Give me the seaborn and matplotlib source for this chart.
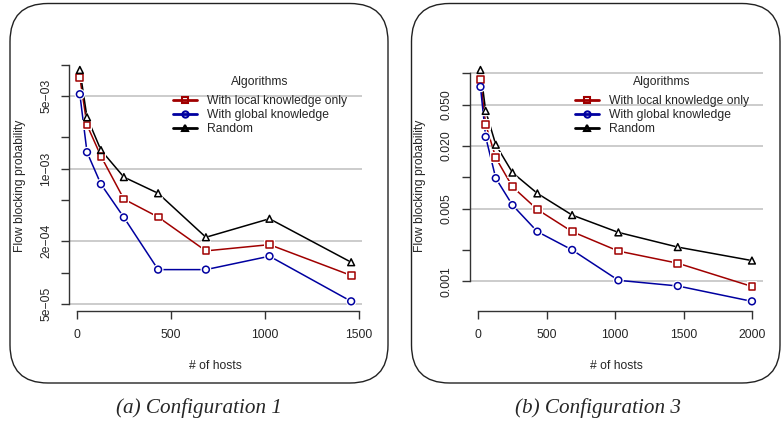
import numpy as np
import pandas as pd
import matplotlib
matplotlib.use("Agg")
import matplotlib.pyplot as plt
import seaborn as sns
from matplotlib.patches import FancyBboxPatch
from matplotlib.lines import Line2D

# ---------------- data ----------------
series_names = ["With local knowledge only", "With global knowledge", "Random"]

hosts1 = [16, 54, 128, 250, 432, 686, 1024, 1458]
local1 = [7.5e-3, 2.63e-3, 1.32e-3, 5.1e-4, 3.43e-4, 1.62e-4, 1.86e-4, 9.4e-5]
global1 = [5.2e-3, 1.44e-3, 7.1e-4, 3.4e-4, 1.07e-4, 1.07e-4, 1.44e-4, 5.3e-5]
random1 = [8.9e-3, 3.12e-3, 1.51e-3, 8.3e-4, 5.8e-4, 2.19e-4, 3.3e-4, 1.26e-4]

hosts3 = [16, 54, 128, 250, 432, 686, 1024, 1458, 2000]
local3 = [0.088, 0.0324, 0.0154, 0.0081, 0.0049, 0.0030, 0.00195, 0.00149, 0.00089]
global3 = [0.0743, 0.0245, 0.0098, 0.0054, 0.0030, 0.0020, 0.00102, 0.00090, 0.00064]
random3 = [0.108, 0.0436, 0.0206, 0.0111, 0.0070, 0.00433, 0.00295, 0.00213, 0.00158]

yticks1 = [5e-5, 1e-4, 2e-4, 5e-4, 1e-3, 2e-3, 5e-3, 1e-2]
ylabels1 = ["5e\u221205", "", "2e\u221204", "", "1e\u221203", "", "5e\u221203", ""]
ygrid1 = [5e-5, 2e-4, 1e-3, 5e-3]
xticks1 = [0, 500, 1000, 1500]

yticks3 = [0.001, 0.002, 0.005, 0.01, 0.02, 0.05, 0.1]
ylabels3 = ["0.001", "", "0.005", "", "0.020", "0.050", ""]
ygrid3 = [0.001, 0.005, 0.02, 0.05, 0.1]
xticks3 = [0, 500, 1000, 1500, 2000]

captions = ["(a) Configuration 1", "(b) Configuration 3"]

# ---------------- style ----------------
sns.set_theme(style="white")
plt.rcParams["font.family"] = ["Liberation Sans", "DejaVu Sans"]
colors = {"With local knowledge only": "#A00000",
          "With global knowledge": "#0000A0",
          "Random": "#000000"}
markers = {"With local knowledge only": "s",
           "With global knowledge": "o",
           "Random": "^"}
FS = 8.7

W, H = 781, 424
fig = plt.figure(figsize=(W / 100, H / 100), dpi=100)


def px_axes(x0, x1, y0, y1):
    return fig.add_axes([x0 / W, 1 - y1 / H, (x1 - x0) / W, (y1 - y0) / H])


def make_df(hosts, loc, glo, rnd):
    rows = []
    for name, vals in zip(series_names, [loc, glo, rnd]):
        for h, v in zip(hosts, vals):
            rows.append((h, v, name))
    return pd.DataFrame(rows, columns=["hosts", "prob", "alg"])


def draw(ax, df, yticks, ylabels, ygrid, xticks):
    for g in ygrid:
        ax.axhline(g, color="#BEBEBE", lw=1.1, zorder=0)
    sns.lineplot(data=df, x="hosts", y="prob", hue="alg", palette=colors,
                 hue_order=series_names, lw=1.1, ax=ax, legend=False,
                 zorder=2, sort=False)
    # white halo to create gaps around points (R type="b")
    sns.scatterplot(data=df, x="hosts", y="prob", style="alg", markers=markers,
                    style_order=series_names, color="white", edgecolor="white",
                    s=60, linewidth=0, ax=ax, legend=False, zorder=3)
    for name in series_names:
        sub = df[df.alg == name]
        sns.scatterplot(data=sub, x="hosts", y="prob", marker=markers[name],
                        facecolor="none", edgecolor=colors[name], s=24,
                        linewidth=1.1, ax=ax, legend=False, zorder=4)
    ax.set_yscale("log")
    x = df.hosts.values
    xr = x.max() - x.min()
    ax.set_xlim(x.min() - 0.04 * xr, x.max() + 0.04 * xr)
    ly = np.log10(df.prob.values)
    lr = ly.max() - ly.min()
    ax.set_ylim(10 ** (ly.min() - 0.04 * lr), 10 ** (ly.max() + 0.04 * lr))
    ax.set_yticks(yticks)
    ax.set_yticklabels(ylabels)
    ax.yaxis.set_minor_locator(matplotlib.ticker.NullLocator())
    ax.set_xticks(xticks)
    ax.set_xticklabels([str(t) for t in xticks])
    for s in ["top", "right"]:
        ax.spines[s].set_visible(False)
    for s in ["left", "bottom"]:
        ax.spines[s].set_color("#333333")
        ax.spines[s].set_linewidth(1.0)
    ax.spines["left"].set_bounds(yticks[0], yticks[-1])
    ax.spines["bottom"].set_bounds(xticks[0], xticks[-1])
    ax.tick_params(axis="both", which="major", length=6, width=1.0,
                   color="#333333", labelsize=FS, left=True, bottom=True)
    ax.tick_params(axis="x", pad=7)
    ax.tick_params(axis="y", pad=6)
    for lab in ax.get_yticklabels():
        lab.set_rotation(90)
        lab.set_va("center")
    ax.set_xlabel("# of hosts", fontsize=FS, labelpad=14)
    ax.set_ylabel("Flow blocking probability", fontsize=FS, labelpad=10.5)
    ax.patch.set_alpha(0)


ax1 = px_axes(69, 362, 60.7, 310.6)
ax2 = px_axes(469.6, 762.8, 60.7, 310.6)
draw(ax1, make_df(hosts1, local1, global1, random1), yticks1, ylabels1, ygrid1, xticks1)
draw(ax2, make_df(hosts3, local3, global3, random3), yticks3, ylabels3, ygrid3, xticks3)

handles = [Line2D([0], [0], color=colors[n], marker=markers[n], lw=2.0,
                  markersize=4.5, markerfacecolor="none", markeredgewidth=1.5)
           for n in series_names]
for ax, lx in [(ax1, 173), (ax2, 575)]:
    leg = ax.legend(handles, series_names, title="Algorithms", frameon=False,
                    loc="upper left", bbox_to_anchor=(lx / W, 1 - 76.5 / H),
                    bbox_transform=fig.transFigure, fontsize=FS,
                    title_fontsize=FS, borderpad=0, borderaxespad=0,
                    handlelength=2.0, handletextpad=0.8, labelspacing=0.18)
    leg._legend_box.sep = 4.5

# panel frames
for (x0, x1) in [(10, 388), (411.5, 780)]:
    y0, y1 = 3.5, 383
    patch = FancyBboxPatch((x0 / 100, (H - y1) / 100), (x1 - x0) / 100,
                           (y1 - y0) / 100,
                           boxstyle="round,pad=0,rounding_size=0.38",
                           transform=fig.dpi_scale_trans, fill=False,
                           edgecolor="#222222", lw=1.0, zorder=0)
    fig.patches.append(patch)

for cx, cap in zip([199, 598], captions):
    fig.text(cx / W, 1 - 408 / H, cap, ha="center", va="center",
             fontsize=15.2, style="italic",
             family=["Liberation Serif", "DejaVu Serif"])

fig.savefig("out.png", dpi=100)
